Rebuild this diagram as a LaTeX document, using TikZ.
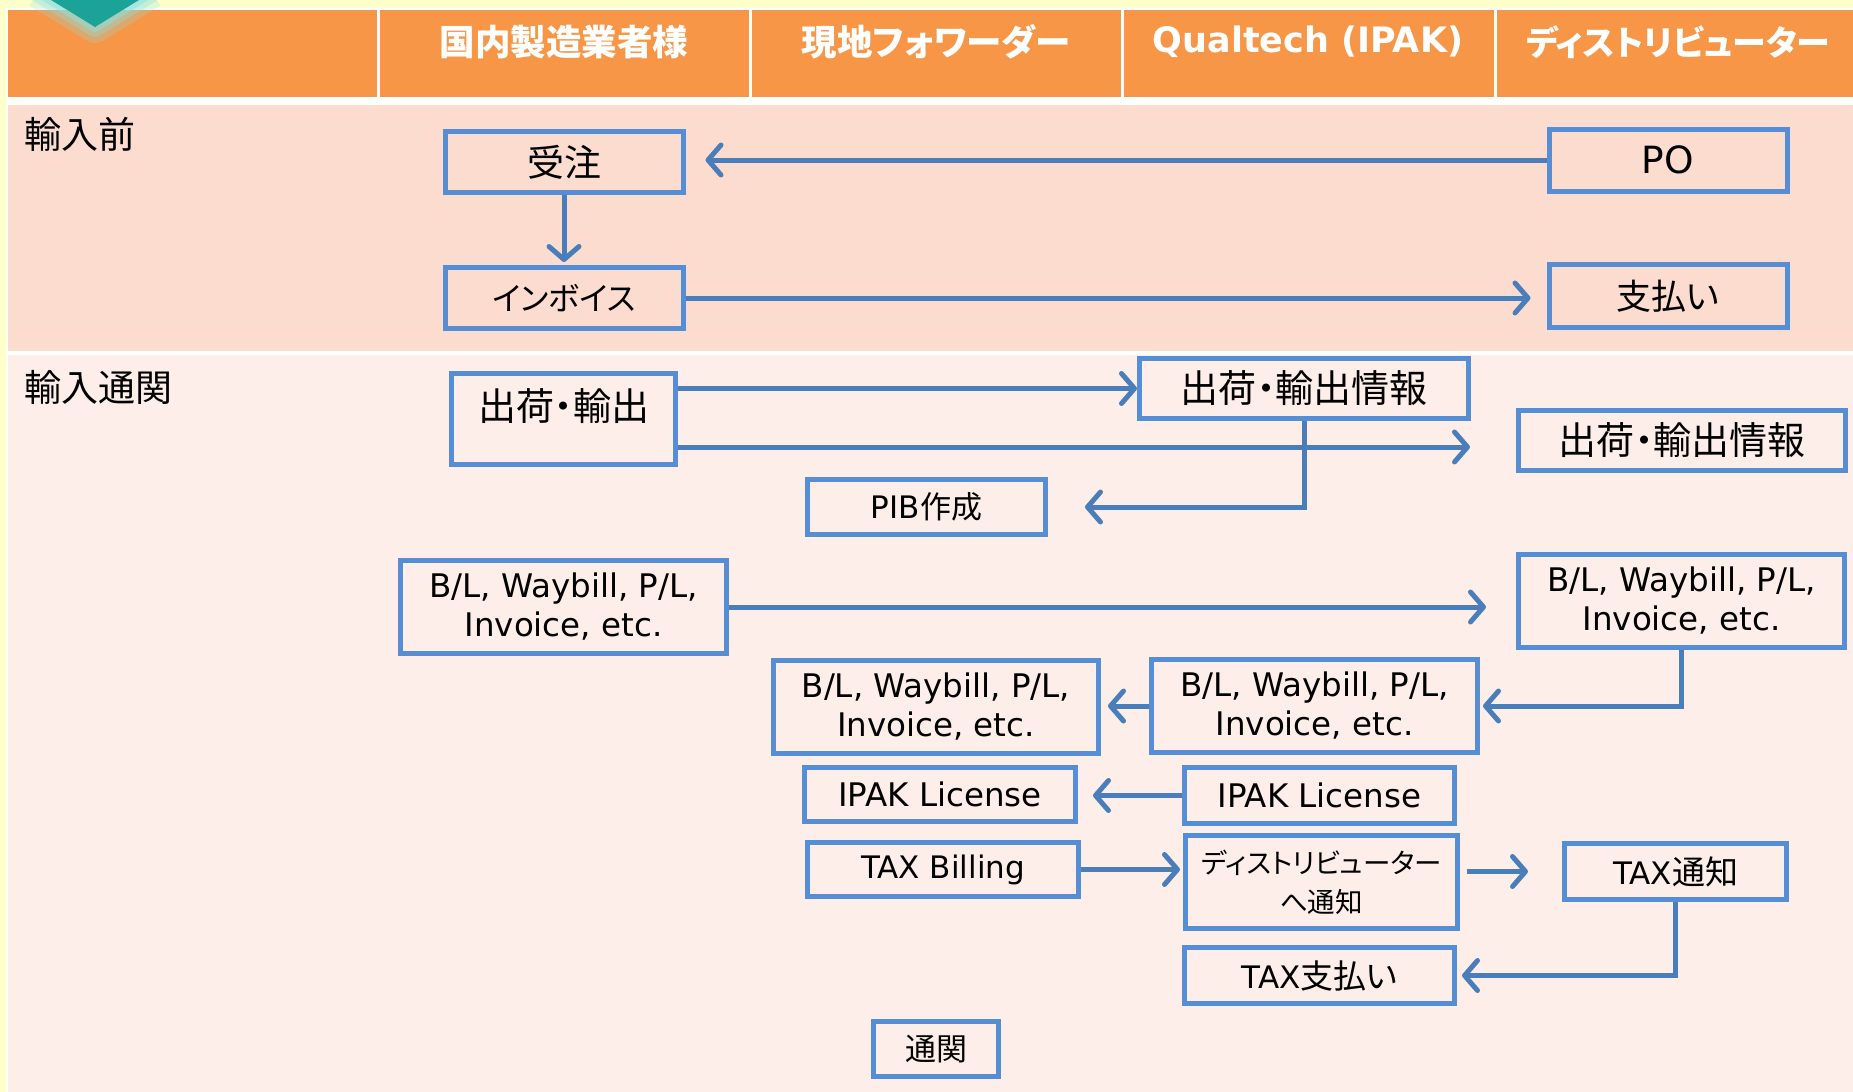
\documentclass[tikz,border=0pt]{standalone}
\usepackage{fontspec}
\setmainfont{DejaVu Sans}
\newfontfamily\jp[RawFeature=+palt]{Noto Sans CJK JP}
\usetikzlibrary{arrows.meta}
\definecolor{bgy}{RGB}{255,255,204}
\definecolor{hdr}{RGB}{247,150,70}
\definecolor{secA}{RGB}{252,220,207}
\definecolor{secB}{RGB}{253,238,233}
\definecolor{bx}{RGB}{85,142,213}
\definecolor{ar}{RGB}{74,126,187}
\definecolor{chev}{RGB}{27,163,152}
\definecolor{glowc}{RGB}{140,225,225}
\newcommand\JP[2][37]{{\jp\fontsize{#1}{44}\selectfont #2}}
\tikzset{
  box/.style={draw=bx, line width=5pt, inner sep=0pt, align=center,
    font=\fontsize{32.5}{39}\selectfont},
  arr/.style={draw=ar, line width=5pt,
    -{Straight Barb[length=13pt,width=30pt,round]}},
  hdrtxt/.style={text=white, inner sep=0pt, font=\bfseries\fontsize{35.5}{40}\selectfont},
  seclbl/.style={anchor=west, inner sep=0pt}
}
\begin{document}
\begin{tikzpicture}[x=1pt,y=-1pt]
\useasboundingbox (0,0) rectangle (1853,1092);
% backgrounds
\fill[bgy] (0,0) rectangle (1853,1092);
\fill[white] (6,8) rectangle (1853,1092);
\fill[hdr] (8,10) rectangle (376.5,97);
\fill[hdr] (379.5,10) rectangle (748.5,97);
\fill[hdr] (751.5,10) rectangle (1120.5,97);
\fill[hdr] (1123.5,10) rectangle (1493.5,97);
\fill[hdr] (1496.5,10) rectangle (1853,97);
\fill[secA] (8,105) rectangle (1853,351);
\fill[secB] (8,355) rectangle (1853,1092);
% chevron with glow
\begin{scope}[line join=round]
\draw[glowc, opacity=0.25, line width=32pt] (38,-8) -- (95,27) -- (152,-8);
\draw[glowc, opacity=0.35, line width=20pt] (38,-8) -- (95,27) -- (152,-8);
\draw[glowc, opacity=0.5, line width=10pt] (38,-8) -- (95,27) -- (152,-8);
\fill[chev] (38,-8) -- (95,27) -- (152,-8) -- cycle;
\end{scope}
% header texts
\node[hdrtxt] (h1) at (564,42) {\jp 国内製造業者様};
\node[hdrtxt] (h2) at (936,42) {\jp 現地フォワーダー};
\node[hdrtxt, font=\bfseries\fontsize{35}{40}\selectfont] (h3) at (1308,42) {Qualtech (IPAK)};
\node[hdrtxt, font=\bfseries\fontsize{34}{40}\selectfont] (h4) at (1678,42) {\jp ディストリビューター};
% section labels
\node[seclbl] (s1) at (24,134) {\JP{輸入前}};
\node[seclbl] (s2) at (24,387) {\JP{輸入通関}};
% boxes
\node[box, minimum width=238, minimum height=61] (ju) at (564,162) {\JP{受注}};
\node[box, minimum width=238, minimum height=61] (inv) at (564,298) {\JP[32]{インボイス}};
\node[box, minimum width=238, minimum height=62] (po) at (1668,160) {\fontsize{37.5}{40}\selectfont PO};
\node[box, minimum width=238, minimum height=63] (pay) at (1668,296) {\JP[35]{支払い}};
\node[box, minimum width=224, text height=47pt, text depth=44pt] (ship) at (563.5,419) {\JP[38]{出荷・輸出}};
\node[box, minimum width=329, minimum height=60] (infoM) at (1304,388.5) {\JP[38]{出荷・輸出情報}};
\node[box, minimum width=327, minimum height=60] (infoR) at (1682,440.5) {\JP[38]{出荷・輸出情報}};
\node[box, minimum width=238, minimum height=55, font=\fontsize{31}{39}\selectfont] (pib) at (926.5,507) {PIB{\jp 作成}};
\node[box, minimum width=326, minimum height=93] (blL) at (563.5,607) {B/L, Waybill, P/L,\\Invoice, etc.};
\node[box, minimum width=326, minimum height=93] (blR) at (1681.5,601) {B/L, Waybill, P/L,\\Invoice, etc.};
\node[box, minimum width=325, minimum height=93] (blML) at (936,707) {B/L, Waybill, P/L,\\Invoice, etc.};
\node[box, minimum width=326, minimum height=93] (blMR) at (1314.5,706) {B/L, Waybill, P/L,\\Invoice, etc.};
\node[box, minimum width=271, minimum height=54] (ipL) at (940,794.5) {IPAK License};
\node[box, minimum width=270, minimum height=56] (ipR) at (1319.5,795.5) {IPAK License};
\node[box, minimum width=271, minimum height=54, font=\fontsize{31}{39}\selectfont] (taxB) at (943,869.5) {TAX Billing};
\node[box, minimum width=272, minimum height=93, font=\jp\fontsize{27.5}{39}\selectfont] (dist) at (1321.5,882) {ディストリビューター\\へ通知};
\node[box, minimum width=222, minimum height=56, font=\fontsize{31}{39}\selectfont] (taxN) at (1675.5,871.5) {TAX{\jp\fontsize{33}{39}\selectfont 通知}};
\node[box, minimum width=270, minimum height=56, font=\fontsize{31}{39}\selectfont] (taxP) at (1319.5,975.5) {TAX{\jp\fontsize{33}{39}\selectfont 支払い}};
\node[box, minimum width=125, minimum height=55] (tsu) at (936,1049) {{\jp\fontsize{31}{39}\selectfont 通関}};
% connectors
\coordinate (eY) at (0,447);
\draw[arr, shorten >=20pt] (po.west) -- (po.west -| ju.east);
\draw[arr, shorten >=3pt] (ju.south) -- (inv.north);
\draw[arr, shorten >=16pt] (inv.east) -- (inv.east -| pay.west);
\draw[arr] (ship.east |- infoM.west) -- (infoM.west);
\draw[arr, shorten >=46pt] (ship.east |- eY) -- (infoR.west |- eY);
\draw[arr, shorten >=37pt] (infoM.south) |- (pib.east);
\draw[arr, shorten >=30pt] (blL.east) -- (blL.east -| blR.west);
\draw[arr, shorten >=3pt] (blR.south) |- (blMR.east);
\draw[arr, shorten >=7pt] (blMR.west) -- (blMR.west -| blML.east);
\draw[arr, shorten >=15pt] (ipR.west) -- (ipR.west -| ipL.east);
\draw[arr, shorten >=3pt] (taxB.east) -- (taxB.east -| dist.west);
\draw[arr, shorten <=7pt, shorten >=34pt] (dist.east |- taxN.west) -- (taxN.west);
\draw[arr, shorten >=5pt] (taxN.south) |- (taxP.east);
\end{tikzpicture}
\end{document}
